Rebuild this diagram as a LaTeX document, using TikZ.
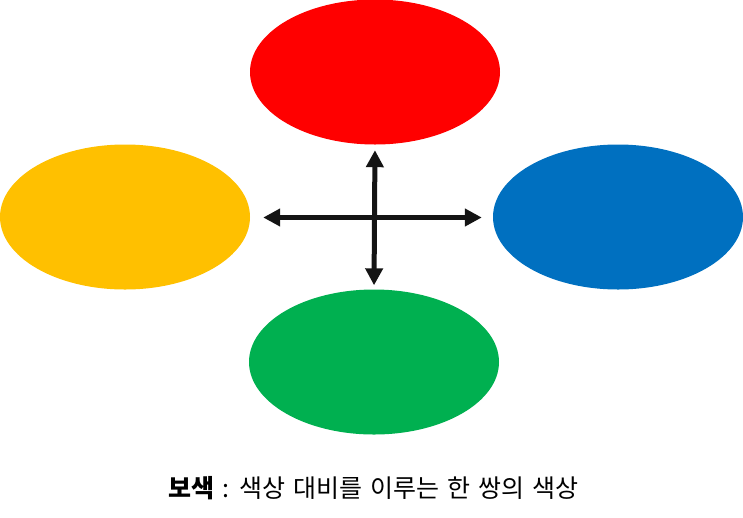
\documentclass[tikz,border=0pt]{standalone}
\usepackage{fontspec}
\newfontfamily\kr{Noto Sans CJK KR}
\newcommand\captfont{\kr\fontsize{25}{30}\selectfont\spaceskip 8pt\relax}
\usetikzlibrary{shapes.geometric,arrows.meta}
\definecolor{cred}{HTML}{FF0000}
\definecolor{cyellow}{HTML}{FFC000}
\definecolor{cblue}{HTML}{0070C0}
\definecolor{cgreen}{HTML}{00B050}
\tikzset{
  blob/.style={ellipse, minimum width=250pt, minimum height=145pt, inner sep=0pt, draw=none},
  dblarrow/.style={line width=5pt, draw=black!92, {Triangle[length=17pt,width=17pt]}-{Triangle[length=17pt,width=17pt]}},
}
\begin{document}
\begin{tikzpicture}[x=1pt,y=-1pt]
\useasboundingbox (0,0) rectangle (743,517);
\node[blob, fill=cred] (red) at (375,72) {};
\node[blob, fill=cyellow] (yellow) at (125,217) {};
\node[blob, fill=cblue] (blue) at (618,217) {};
\node[blob, fill=cgreen] (green) at (374,362) {};
\draw[dblarrow, shorten <=5.5pt, shorten >=4pt] (red.south) -- (green.north);
\draw[dblarrow, shorten <=13pt, shorten >=11pt] (yellow.east |- 0,217.5) -- (blue.west |- 0,217.5);
\node[font=\captfont, anchor=base, inner sep=0pt] (caption) at (373.5,497) {\textbf{보색} : 색상 대비를 이루는 한 쌍의 색상};
\end{tikzpicture}
\end{document}
